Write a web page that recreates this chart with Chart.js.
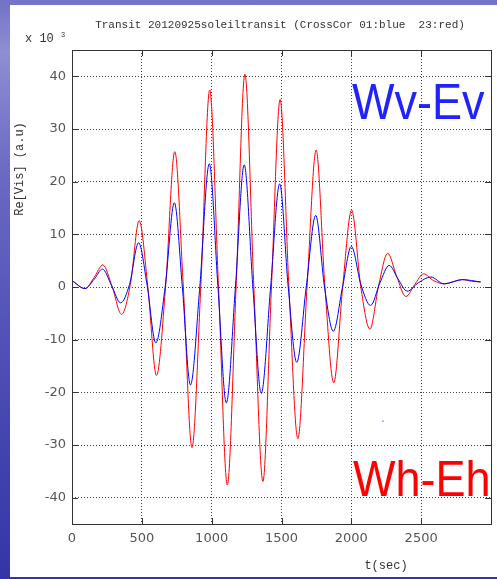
<!DOCTYPE html>
<html>
<head>
<meta charset="utf-8">
<script src="https://cdn.jsdelivr.net/npm/chart.js@4.4.0/dist/chart.umd.min.js"></script>
<style>
    body {
        margin: 0;
        width: 497px;
        height: 579px;
        overflow: hidden;
        background: linear-gradient(to bottom, #7272c6 0%, #8e8ed2 9%, #6a6ac2 30%, #5050b6 60%, #3434a6 100%);
    }
    #panel {
        position: absolute;
        left: 10px;
        top: 5px;
        width: 487px;
        height: 572px;
        background: #fff;
    }
    #cv {
        position: absolute;
        left: 0;
        top: 0;
    }
</style>
</head>
<body>
<div id="panel"></div>
<canvas id="cv" width="497" height="579"></canvas>

<script>
    // Wv-Ev (blue): extremes and zero crossings
    const tBlue = [0, 93, 160, 218, 283, 348, 412, 477, 538, 600, 667, 733, 790, 848, 915, 983,
        1045, 1105, 1170, 1233, 1295, 1355, 1422, 1487, 1548, 1609, 1677, 1745, 1808, 1871, 1937,
        2000, 2068, 2138, 2205, 2271, 2335, 2400, 2480, 2569, 2664, 2795, 2926]
    const vBlue = [1.2, -0.3, 1.5, 3.4, 0.3, -3.0, 0.5, 8.4, 0.3, -10.6, 0, 16.0, 0, -18.6, 0, 23.4,
        0, -22.0, 0, 23.2, 0, -20.2, 0, 19.6, 0, -14.3, 0, 13.6, 0, -8.4, 0,
        7.7, 0.5, -3.5, 0.8, 4.1, 1.5, -0.8, 0.8, 1.9, 0.6, 1.4, 0.95]

    // Wh-Eh (red)
    const tRed = [0, 93, 158, 221, 288, 355, 418, 481, 543, 605, 670, 736, 797, 859, 922, 986,
        1049, 1112, 1175, 1238, 1302, 1367, 1428, 1490, 1553, 1617, 1683, 1748, 1811, 1874, 1938,
        2002, 2068, 2133, 2197, 2260, 2325, 2390, 2455, 2517, 2590, 2664, 2730, 2795, 2860, 2926]
    const vRed = [1.25, -0.3, 1.8, 4.2, 0, -5.2, 0.5, 12.6, 0, -16.8, 0, 25.7, 0, -30.5, 0, 37.4,
        0, -37.6, 0, 40.4, 0, -36.9, 0, 35.6, 0, -28.8, 0, 26.0, 0, -18.2, 0,
        14.6, 0, -8.0, 0.5, 6.4, 2.0, -1.8, 0.5, 2.5, 1.2, 0.6, 1.0, 1.4, 1.1, 0.95]

    // stray point seen in the plot
    const tDot = [2226]
    const vDot = [-25.5]

    const xTicks = [0, 500, 1000, 1500, 2000, 2500]
    const yTicks = [-40, -30, -20, -10, 0, 10, 20, 30, 40]

    function toPoints(ts, vs) {
        return ts.map((t, i) => ({ x: t, y: vs[i] }))
    }

    const frame = {
        id: 'frame',
        afterDraw(chart) {
            const ctx = chart.ctx
            const a = chart.chartArea
            const xs = chart.scales.x
            const ys = chart.scales.y
            ctx.save()
            // inward ticks
            ctx.strokeStyle = '#333'
            ctx.lineWidth = 1
            ctx.beginPath()
            xTicks.forEach(v => {
                const px = Math.round(xs.getPixelForValue(v)) + 0.5
                ctx.moveTo(px, a.top); ctx.lineTo(px, a.top + 6)
                ctx.moveTo(px, a.bottom); ctx.lineTo(px, a.bottom - 6)
            })
            yTicks.forEach(v => {
                const py = Math.round(ys.getPixelForValue(v)) + 0.5
                ctx.moveTo(a.left, py); ctx.lineTo(a.left + 6, py)
                ctx.moveTo(a.right, py); ctx.lineTo(a.right - 6, py)
            })
            ctx.stroke()
            // box
            ctx.strokeRect(Math.round(a.left) + 0.5, Math.round(a.top) + 0.5,
                Math.round(a.right - a.left), Math.round(a.bottom - a.top))

            // texts
            ctx.fillStyle = '#333'
            ctx.font = '11px "Liberation Mono"'
            ctx.textAlign = 'center'
            ctx.textBaseline = 'middle'
            ctx.fillText('Transit 20120925soleiltransit (CrossCor 01:blue  23:red)', 280, 25)

            ctx.font = '12px "Liberation Mono"'
            ctx.fillText('t(sec)', 386, 566)

            ctx.textAlign = 'left'
            ctx.fillText('x 10', 25, 39)
            ctx.font = '7px "Liberation Mono"'
            ctx.fillText('3', 61, 35)

            ctx.save()
            ctx.translate(20, 169)
            ctx.rotate(-Math.PI / 2)
            ctx.textAlign = 'center'
            ctx.font = '12px "Liberation Mono"'
            ctx.fillText('Re[Vis] (a.u)', 0, 0)
            ctx.restore()

            ctx.textBaseline = 'alphabetic'
            ctx.font = '50px "Liberation Sans"'
            ctx.save()
            ctx.translate(352, 119)
            ctx.scale(0.9, 1)
            ctx.fillStyle = '#2222ff'
            ctx.fillText('Wv-Ev', 0, 0)
            ctx.restore()
            ctx.save()
            ctx.translate(353, 496)
            ctx.scale(0.9, 1)
            ctx.fillStyle = '#ff0000'
            ctx.fillText('Wh-Eh', 0, 0)
            ctx.restore()
            ctx.restore()
        }
    }

    function drawChart() {
        const cv = $('#cv')
        new Chart(cv, {
            type: 'line',
            data: {
                datasets: [{
                    label: 'Wv-Ev',
                    data: toPoints(tBlue, vBlue),
                    borderColor: '#0000ff',
                    borderWidth: 1,
                    pointRadius: 0,
                    cubicInterpolationMode: 'monotone'
                }, {
                    label: 'Wh-Eh',
                    data: toPoints(tRed, vRed),
                    borderColor: '#ff0000',
                    borderWidth: 1,
                    pointRadius: 0,
                    cubicInterpolationMode: 'monotone'
                }, {
                    label: 'dot',
                    data: toPoints(tDot, vDot),
                    showLine: false,
                    pointStyle: 'rect',
                    pointRadius: 1,
                    borderWidth: 0,
                    backgroundColor: '#8080ff'
                }]
            },
            options: {
                responsive: false,
                animation: false,
                events: [],
                layout: { padding: { left: 10, top: 50, right: 6, bottom: 10 } },
                plugins: { legend: { display: false }, tooltip: { enabled: false } },
                scales: {
                    x: {
                        type: 'linear',
                        min: 0,
                        max: 3000,
                        afterFit: s => { s.height = 45 },
                        afterBuildTicks: s => { s.ticks = xTicks.map(v => ({ value: v })) },
                        ticks: {
                            color: '#555',
                            font: { family: 'DejaVu Sans', size: 13 },
                            padding: 7,
                            maxRotation: 0,
                            callback: v => String(v)
                        },
                        grid: { color: '#444', lineWidth: 1, drawTicks: false },
                        border: { display: false, dash: [1, 2] }
                    },
                    y: {
                        type: 'linear',
                        min: -45,
                        max: 45,
                        afterFit: s => { s.width = 62 },
                        afterBuildTicks: s => { s.ticks = yTicks.map(v => ({ value: v })) },
                        ticks: {
                            color: '#555',
                            font: { family: 'DejaVu Sans', size: 13 },
                            padding: 6,
                            callback: v => String(v)
                        },
                        grid: { color: '#444', lineWidth: 1, drawTicks: false },
                        border: { display: false, dash: [1, 2] }
                    }
                }
            },
            plugins: [frame]
        })
    }

    function $(sel) { return document.querySelector(sel) }
    drawChart()
</script>
</body>
</html>
